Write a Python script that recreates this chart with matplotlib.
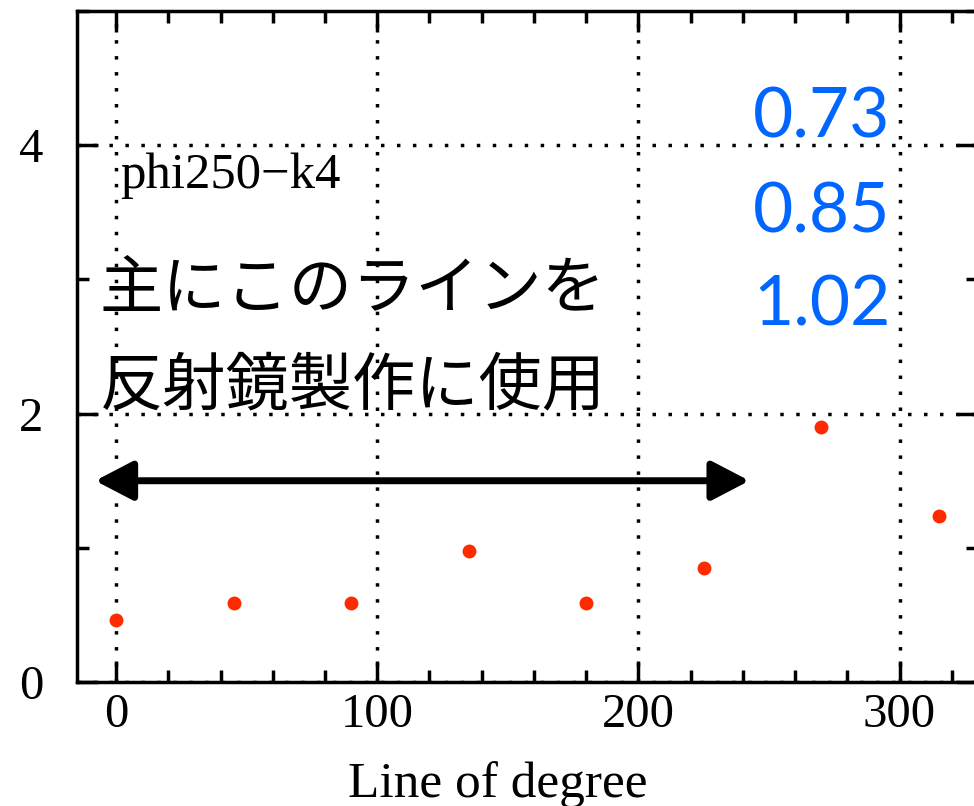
"""
Scatter of values per line of degree (phi250-k4) with annotations.
"""

import matplotlib
matplotlib.use('Agg')
import matplotlib.pyplot as plt
from matplotlib.patches import FancyArrowPatch
from matplotlib.ticker import MultipleLocator

# data
ANGLES = [0, 45, 90, 135, 180, 225, 270, 315]
VALUES = [0.46, 0.59, 0.59, 0.98, 0.59, 0.85, 1.90, 1.24]
LABEL_VALUES = ['0.73', '0.85', '1.02']
SAMPLE_NAME = 'phi250\u2212k4'
NOTE_LINES = ['主にこのラインを', '反射鏡製作に使用']

SERIF = 'Liberation Serif'
DOT_COLOR = '#ff2a00'
BLUE = '#0066ff'


def create_plot(output_file='out.png'):
    fig = plt.figure(figsize=(9.74, 8.06), dpi=100)
    # axes run slightly past the right edge of the figure, as in the original
    ax = fig.add_axes([0.079, 0.1538, 0.925, 0.8325])

    ax.plot(ANGLES, VALUES, 'o', color=DOT_COLOR, markersize=10,
            markeredgewidth=0, zorder=5)

    ax.set_xlim(-15, 330)
    ax.set_ylim(0, 5)
    ax.xaxis.set_major_locator(MultipleLocator(100))
    ax.xaxis.set_minor_locator(MultipleLocator(20))
    ax.yaxis.set_major_locator(MultipleLocator(2))
    ax.yaxis.set_minor_locator(MultipleLocator(1))

    ax.tick_params(which='both', direction='in', top=True, right=True,
                   width=2.5, color='black')
    ax.tick_params(which='major', length=15)
    ax.tick_params(which='minor', length=8.5)
    ax.tick_params(axis='x', which='major', pad=8)
    ax.tick_params(axis='y', which='major', pad=24)
    for lab in ax.get_xticklabels() + ax.get_yticklabels():
        lab.set_fontfamily(SERIF)
        lab.set_fontsize(35)

    for spine in ax.spines.values():
        spine.set_linewidth(2.5)

    ax.grid(True, which='major', color='black', linewidth=2.5,
            linestyle=(0, (1.0, 3.6)))
    ax.set_axisbelow(True)

    ax.set_xlabel('Line of degree', fontfamily=SERIF, fontsize=37,
                  ha='left', va='baseline')
    ax.xaxis.set_label_coords(0.301, -0.171)

    # sample name
    ax.text(1.5, 3.68, SAMPLE_NAME, fontfamily=SERIF, fontsize=36.5,
            va='baseline', ha='left')

    # japanese note
    for txt, y in zip(NOTE_LINES, [2.92, 2.205]):
        ax.text(-6.3, y, txt, fontfamily=['Noto Sans CJK JP', 'DejaVu Sans'],
                fontsize=45.5, va='center', ha='left')

    # blue numbers on the right
    for txt, y in zip(LABEL_VALUES, [4.06, 3.35, 2.66]):
        ax.text(296.5, y, txt, fontfamily='Lato', fontsize=50, color=BLUE,
                va='baseline', ha='right')

    # double headed arrow
    arrow = FancyArrowPatch((-8.0, 1.5), (242.5, 1.5),
                            arrowstyle='<|-|>,head_length=23,head_width=12',
                            mutation_scale=1, linewidth=5, color='black',
                            shrinkA=0, shrinkB=0, zorder=6)
    ax.add_patch(arrow)

    fig.savefig(output_file, dpi=100)


def main():
    create_plot()


if __name__ == '__main__':
    main()
